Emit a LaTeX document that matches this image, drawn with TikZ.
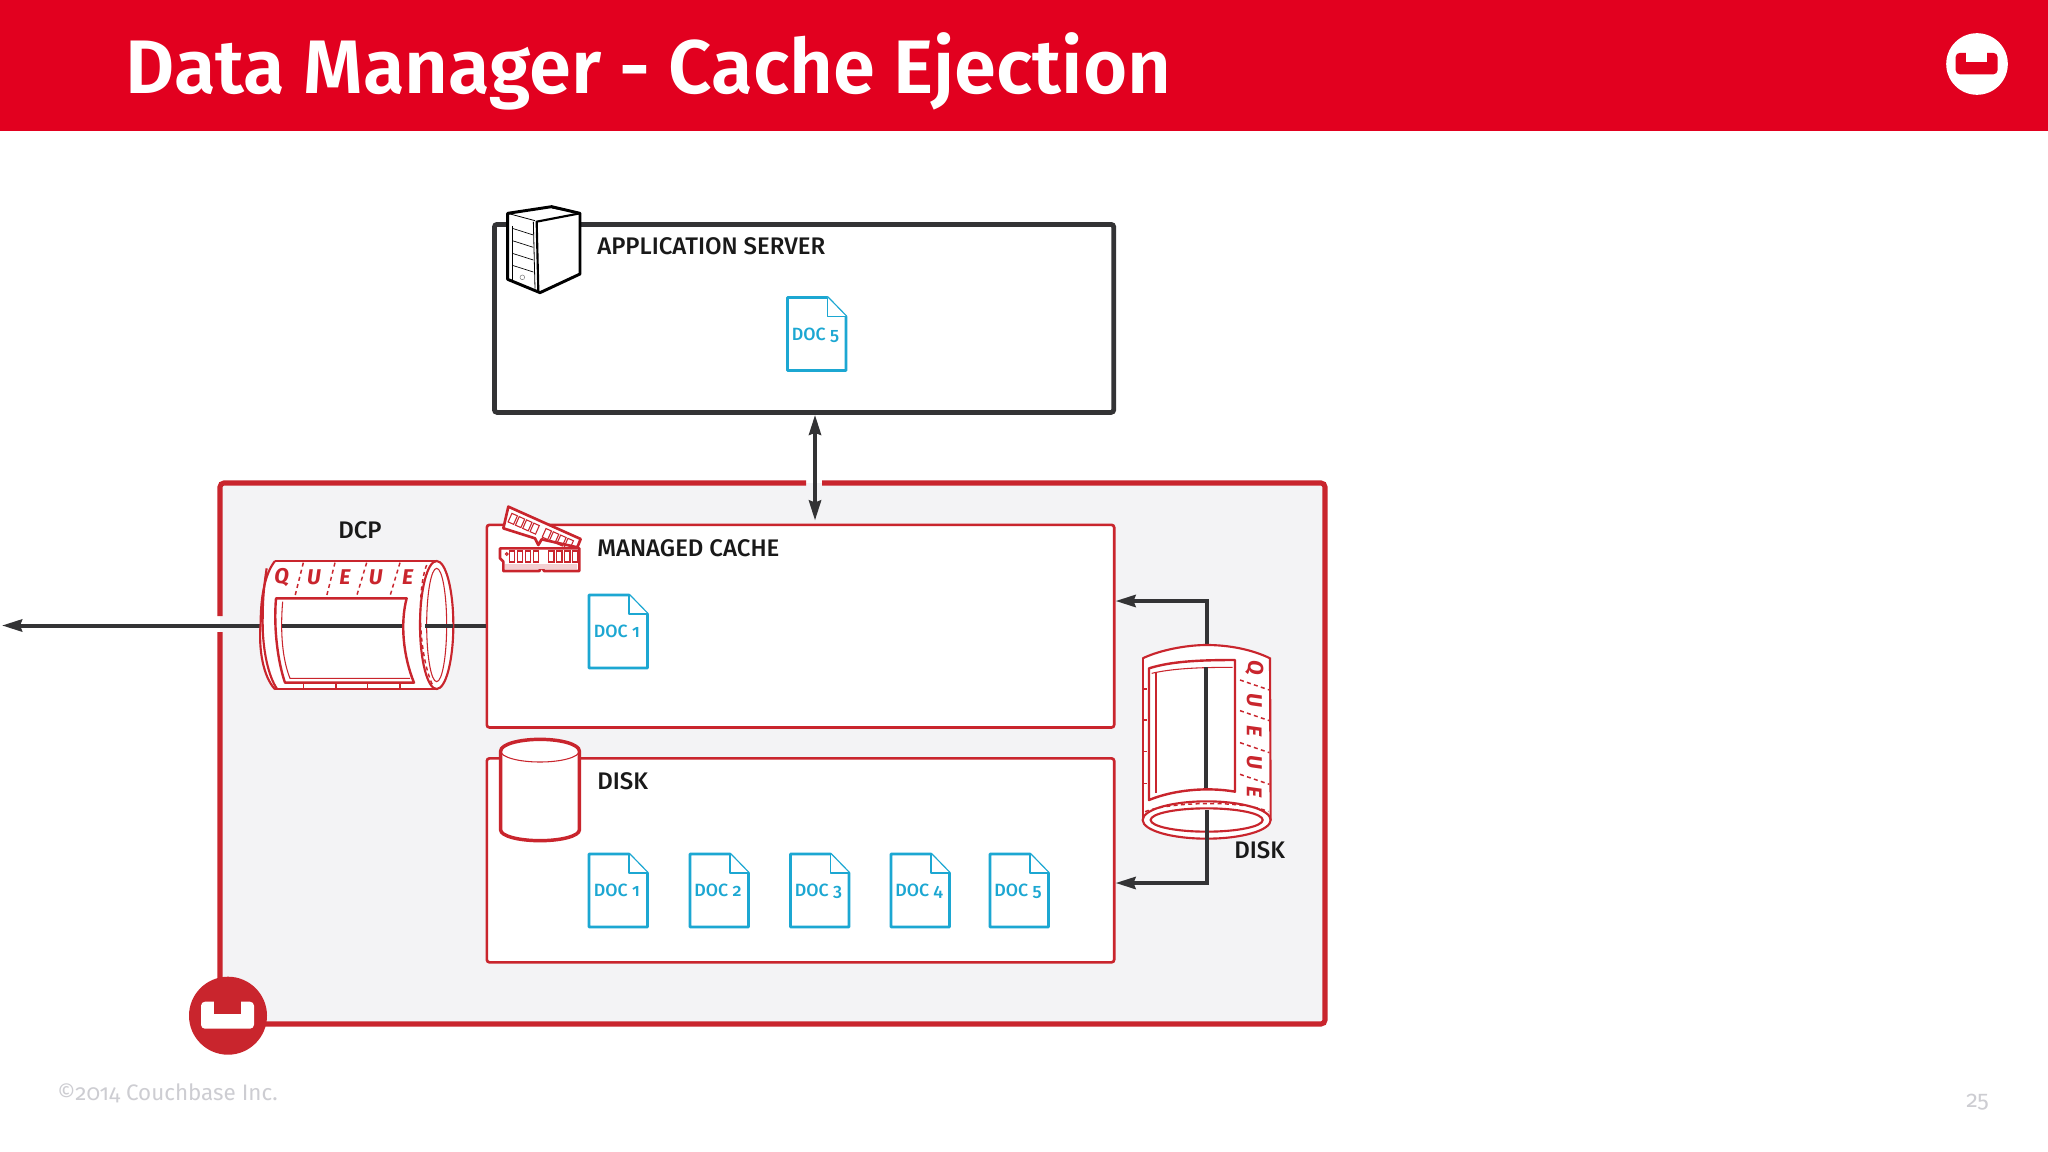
\documentclass[tikz,border=0pt]{standalone}
\usepackage{fontspec}
\setmainfont{Fira Sans}[Numbers=OldStyle]
\newfontfamily\titlefont{Fira Sans SemiBold}
\newfontfamily\labelfont{Fira Sans Medium}[Numbers=OldStyle]
\usetikzlibrary{arrows.meta,calc,positioning}
\definecolor{cbheader}{HTML}{E2001F}
\definecolor{cbred}{HTML}{C9252D}
\definecolor{cbpanel}{HTML}{F3F3F5}
\definecolor{cbdark}{HTML}{333335}
\definecolor{cbdoc}{HTML}{1CA7D2}
\definecolor{cbgray}{HTML}{CDCDD2}
\tikzset{
  x=0.75pt,y=-0.75pt,
  box/.style={draw=cbred,fill=white,line width=2pt,rounded corners=2pt,minimum width=470.5pt,inner sep=0pt,anchor=north west},
  conn/.style={draw=cbdark,line width=3pt},
  tip/.style={-{Stealth[length=15pt,width=9pt,inset=1.5pt]}},
  bothtips/.style={{Stealth[length=15pt,width=9pt,inset=1.5pt]}-{Stealth[length=15pt,width=9pt,inset=1.5pt]}},
  lab/.style={font=\labelfont\fontsize{18}{20}\selectfont,text=black!90,anchor=base west,inner sep=0pt},
  doctxt/.style={font=\labelfont\fontsize{13.3}{15}\selectfont,text=cbdoc,inner sep=0pt,anchor=base},
  docline/.style={draw=cbdoc,line width=2pt,line join=round,fill=white},
  thinred/.style={draw=cbred,line width=0.8pt},
  midred/.style={draw=cbred,line width=1.6pt},
  dashred/.style={draw=cbred,line width=1.1pt,dash pattern=on 3pt off 2.5pt},
  qletter/.style={font=\bfseries\itshape\fontsize{16}{16}\selectfont,text=cbred,inner sep=0pt},
}
% document icon: #1 name, #2 x, #3 y, #4 text
\newcommand{\docicon}[4]{
  \begin{scope}[shift={(#2,#3)}]
    \draw[docline] (0,0) -- (40,0) -- (58.5,19) -- (58.5,73) -- (0,73) -- cycle;
    \draw[docline,line width=1.2pt] (40,0) -- (40,19) -- (58.5,19);
    \node[doctxt] (#1) at (28,42.5) {#4};
  \end{scope}
}
% couchbase mark: #1 name, #2 x, #3 y, #4 scale, #5 disc colour, #6 mark colour
\newcommand{\cbmark}[6]{
  \begin{scope}[shift={(#2,#3)},scale=#4]
    \fill[#5] (0,0) circle (39);
    \fill[#6,rounded corners=3pt] (-27,-14) rectangle (26,13);
    \fill[#5] (-14,-15) rectangle (13,-2);
    \coordinate (#1) at (0,0);
  \end{scope}
}
\begin{document}
\begin{tikzpicture}
  \useasboundingbox (0,0) rectangle (2048,1152);
  \fill[white] (0,0) rectangle (2048,1152);

  % header
  \fill[cbheader] (0,0) rectangle (2048,131);
  \node[anchor=base west,inner sep=0pt,text=white,font=\titlefont\fontsize{56.9}{60}\selectfont] (title) at (125.5,94) {Data Manager - Cache Ejection};
  \cbmark{toplogo}{1977}{64}{0.79}{white}{cbheader}

  % outer panel, border has gaps where the arrows go through
  \fill[cbpanel] (220,483) rectangle (1325,1024);
  \draw[cbred,line width=3.8pt,rounded corners=3pt] (806,483) -- (220,483) -- (220,616);
  \draw[cbred,line width=3.8pt,rounded corners=3pt] (220,632) -- (220,1024) -- (1325,1024) -- (1325,483) -- (822,483);

  % application server
  \node[box,draw=cbdark,line width=3.6pt,minimum width=464.5pt,minimum height=141pt] (app) at (492,222) {};
  \node[lab] (applab) at (597,254) {APPLICATION SERVER};
  \docicon{doc5a}{787.5}{297.5}{DOC 5}

  % server icon
  \begin{scope}[shift={(470,190)},scale=1/3]
    \draw[black,fill=white,line width=2.2pt,line join=round] (113,70) -- (245,50) -- (330,70) -- (330,252) -- (210,308) -- (113,268) -- cycle;
    \draw[black,line width=0.6pt] (113,70) -- (195,92);
    \draw[black,line width=0.6pt] (245,54) -- (330,70);
    \draw[black,line width=1.6pt] (330,70) -- (200,95) -- (205,304);
    \draw[black,line width=0.6pt] (190,95) -- (195,296);
    \foreach \yy in {115,152,190,226} \draw[black,line width=0.5pt] (127,\yy) -- (190,\yy+20);
    \draw[black,line width=0.5pt] (127,108) -- (127,270);
    \draw[gray,line width=0.4pt] (157,262) circle (7);
  \end{scope}

  % managed cache
  \node[box,minimum height=152pt] (cache) at (485.5,523.5) {};
  \node[lab] (cachelab) at (597,556) {MANAGED CACHE};
  \docicon{doc1a}{589}{595}{DOC 1}

  % disk
  \node[box,minimum height=153pt] (disk) at (485.5,757) {};
  \node[lab] (disklab) at (597,789) {DISK};
  \docicon{doc1b}{589}{854}{DOC 1}
  \docicon{doc2}{690}{854}{DOC 2}
  \docicon{doc3}{790.5}{854}{DOC 3}
  \docicon{doc4}{891}{854}{DOC 4}
  \docicon{doc5b}{990}{854}{DOC 5}

  % RAM sticks
  \begin{scope}[shift={(240,490)},scale=1/3]
    \draw[midred,fill=white,line width=2pt,line join=round] (805,50) -- (1022,147) -- (1012,172) -- (905,148) -- (895,165) -- (885,145) -- (790,115) -- cycle;
    \begin{scope}[shift={(805,50)},rotate=-24]
      \foreach \xx in {18,42,66,90,130,154,178,202} \draw[thinred] (\xx,14) rectangle +(18,28);
    \end{scope}
    \draw[midred,fill=white,line width=2pt,line join=round] (780,175) -- (1018,175) -- (1018,243) -- (912,243) -- (905,228) -- (898,243) -- (790,243) -- (790,215) -- (780,205) -- cycle;
    \fill[cbred!22] (795,222) rectangle (1012,238);
    \foreach \xx in {808,832,856,880,926,950,974,998} \draw[thinred,fill=white] (\xx,183) rectangle +(16,33);
    \draw[thinred] (800,192) circle (4);
  \end{scope}

  % disk cylinder
  \begin{scope}[shift={(480,720)},scale=1/3]
    \draw[midred,fill=white,line width=2.6pt] (62,93) arc[start angle=180,end angle=360,x radius=118,y radius=35] -- (298,330) arc[start angle=0,end angle=180,x radius=118,y radius=32] -- cycle;
    \draw[thinred] (62,93) arc[start angle=180,end angle=0,x radius=118,y radius=33];
  \end{scope}

  % connectors (drawn under the queue icons)
  \coordinate (apparrow) at ($(app.south west)+(323,0)$);
  \coordinate (cachearrow) at ($(cache.north west)+(329.5,-3)$);
  \draw[conn,bothtips] (apparrow) -- (cachearrow);
  \coordinate (exit) at (2,625.5);
  \coordinate (cacheleft) at (cache.west |- exit);
  \draw[conn,tip] (cacheleft) -- (exit);
  \coordinate (flushtop) at (1207,601);
  \coordinate (cacheright) at (cache.east |- flushtop);
  \coordinate (flushbot) at (1207,883);
  \coordinate (diskright) at (disk.east |- flushbot);

  % DCP queue
  \begin{scope}[shift={(240,490)},scale=1/3]
    \path[fill=white] (105,213) -- (590,213) arc[start angle=-90,end angle=90,x radius=50,y radius=192.5] -- (105,598) .. controls (70,560) and (55,480) .. (62,400) .. controls (62,320) and (75,250) .. (105,213) -- cycle;
    \draw[midred] (105,213) -- (590,213);
    \draw[midred] (105,598) -- (595,598);
    \draw[midred] (105,213) .. controls (75,250) and (62,320) .. (62,400) .. controls (55,480) and (70,560) .. (105,598);
    \draw[midred] (80,235) .. controls (70,300) and (68,340) .. (68,400) .. controls (68,480) and (85,560) .. (112,598);
    \draw[midred] (590,405) ellipse [x radius=50,y radius=192];
    \draw[thinred] (590,405) ellipse [x radius=30,y radius=170];
    \draw[dashred] (560,225) .. controls (530,300) and (535,500) .. (580,590);
    \draw[midred,fill=white,line width=1.8pt,line join=round] (108,325) -- (500,325) .. controls (480,400) and (490,500) .. (522,578) -- (135,578) .. controls (115,520) and (100,420) .. (108,325) -- cycle;
    \draw[thinred] (128,335) .. controls (120,430) and (128,510) .. (150,565) -- (510,565);
    \draw[cbdark,line width=3pt] (125,407) -- (487,407);
    \draw[cbdark,line width=3pt] (555,407) -- (640,407);
    \foreach \xa/\xb in {190/165,285/260,380/350,480/450} \draw[dashred] (\xa,218) -- (\xb,318);
    \foreach \xa in {190,288,382,480} \draw[thinred] (\xa,582) -- (\xa,596);
    \node[qletter] (q1) at (125,262) {Q};
    \node[qletter] (q2) at (222,262) {U};
    \node[qletter] (q3) at (315,262) {E};
    \node[qletter] (q4) at (407,262) {U};
    \node[qletter] (q5) at (503,262) {E};
  \end{scope}

  % disk queue, connectors pass behind it
  \draw[conn,tip] (1207,645) -- (flushtop) -- (cacheright);
  \draw[conn,tip] (1207,800) -- (flushbot) -- (diskright);
  \begin{scope}[shift={(1100,590)},scale=1/3]
    \path[fill=white] (128,205) .. controls (180,180) and (260,165) .. (320,165) .. controls (390,165) and (460,180) .. (510,205) -- (512,690) arc[start angle=0,end angle=180,x radius=192,y radius=55] -- cycle;
    \draw[midred] (128,205) .. controls (180,180) and (260,165) .. (320,165) .. controls (390,165) and (460,180) .. (510,205) -- (512,690);
    \draw[midred] (128,205) -- (128,690);
    \draw[midred] (320,690) ellipse [x radius=192,y radius=56];
    \draw[midred] (320,690) ellipse [x radius=168,y radius=35];
    \draw[dashred] (135,665) .. controls (210,635) and (430,630) .. (505,665);
    \draw[midred,fill=white,line width=1.8pt,line join=round] (147,235) .. controls (210,215) and (290,210) .. (405,210) -- (405,605) .. controls (320,590) and (220,600) .. (147,630) -- cycle;
    \draw[thinred] (168,250) -- (168,608);
    \draw[thinred] (155,250) .. controls (220,235) and (300,232) .. (398,232);
    \draw[cbdark,line width=3pt] (318,232) -- (318,595);
    \draw[cbdark,line width=3pt] (322,660) -- (322,760);
    \foreach \yy in {270,362,458,553} \draw[dashred] (420,\yy) -- (508,\yy+30);
    \foreach \yy in {297,390,485,580} \draw[thinred] (128,\yy) -- (142,\yy);
    \node[qletter,rotate=-90] (r1) at (463,232) {Q};
    \node[qletter,rotate=-90] (r2) at (463,330) {U};
    \node[qletter,rotate=-90] (r3) at (463,423) {E};
    \node[qletter,rotate=-90] (r4) at (463,517) {U};
    \node[qletter,rotate=-90] (r5) at (463,607) {E};
  \end{scope}

  \node[lab] (dcplab) at (338,538) {DCP};
  \node[lab] (queuedisk) at (1234,858) {DISK};

  % footer
  \cbmark{botlogo}{228}{1015.7}{1}{cbred}{white}
  \node[anchor=base west,inner sep=0pt,text=cbgray,font=\fontsize{16.8}{20}\selectfont] (copy) at (57,1100.5) {©2014 Couchbase Inc.};
  \node[anchor=base west,inner sep=0pt,text=cbgray,font=\fontsize{17.5}{20}\selectfont] (pageno) at (1966,1107) {25};
\end{tikzpicture}
\end{document}
